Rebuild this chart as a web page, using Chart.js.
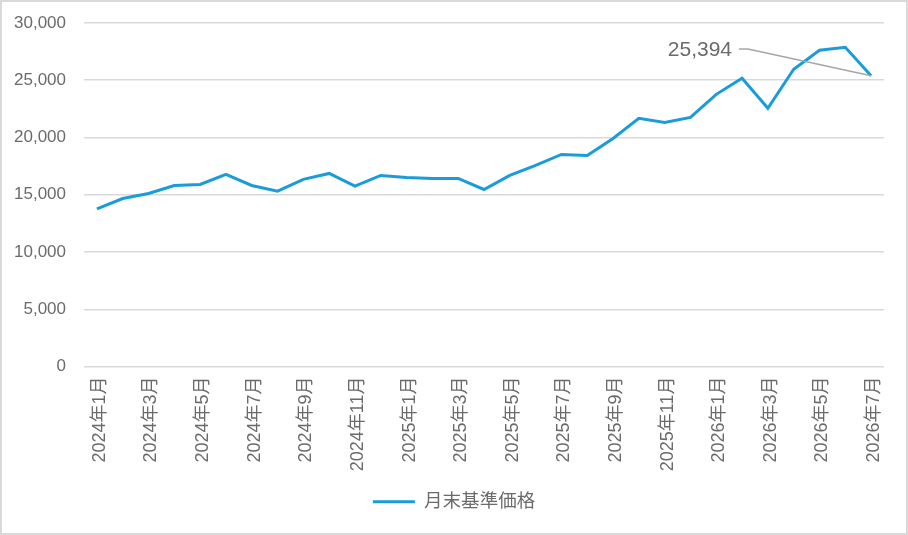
<!DOCTYPE html>
<html>
<head>
<meta charset="utf-8">
<script src="https://cdn.jsdelivr.net/npm/chart.js@4"></script>
<style>
  html, body { margin: 0; padding: 0; background: #fff; }
  #wrap { width: 908px; height: 535px; position: relative; }
</style>
</head>
<body>
<div id="wrap"><canvas id="navChart"></canvas></div>
<script>
const months = [
  "2024年1月", "2024年2月", "2024年3月", "2024年4月", "2024年5月", "2024年6月",
  "2024年7月", "2024年8月", "2024年9月", "2024年10月", "2024年11月", "2024年12月",
  "2025年1月", "2025年2月", "2025年3月", "2025年4月", "2025年5月", "2025年6月",
  "2025年7月", "2025年8月", "2025年9月", "2025年10月", "2025年11月", "2025年12月",
  "2026年1月", "2026年2月", "2026年3月", "2026年4月", "2026年5月", "2026年6月",
  "2026年7月"
];
const navValues = [
  13770, 14670, 15110, 15810, 15900, 16780,
  15810, 15310, 16340, 16860, 15750, 16690,
  16510, 16420, 16420, 15460, 16690, 17560,
  18520, 18430, 19920, 21670, 21320, 21760,
  23770, 25170, 22550, 25960, 27620, 27880,
  25394
];
const seriesName = "月末基準価格";
const yTicks = [0, 5000, 10000, 15000, 20000, 25000, 30000];

const FONT = "'Liberation Sans', Arial, 'Noto Sans CJK JP', sans-serif";
const TEXT = "#6b6b6b";
const GRID = "#d9d9d9";
const BLUE = "#1a9cd8";

// frame around the whole picture
const framePlugin = {
  id: "frame",
  beforeDraw(chart) {
    const c = chart.ctx;
    c.save();
    c.strokeStyle = GRID;
    c.lineWidth = 2;
    c.strokeRect(1, 1, chart.width - 2, chart.height - 2);
    c.restore();
  }
};

// callout for the last value
const lastLabelPlugin = {
  id: "lastLabel",
  afterDatasetsDraw(chart) {
    const meta = chart.getDatasetMeta(0);
    const pt = meta.data[meta.data.length - 1];
    const v = navValues[navValues.length - 1];
    const c = chart.ctx;
    const tx = 732, ty = 50;
    c.save();
    c.strokeStyle = "#a6a6a6";
    c.lineWidth = 1.5;
    c.beginPath();
    c.moveTo(739, 49);
    c.lineTo(748, 49);
    c.lineTo(pt.x, pt.y);
    c.stroke();
    c.fillStyle = "#6b6b6b";
    c.font = "21px " + FONT;
    c.textAlign = "right";
    c.textBaseline = "middle";
    c.fillText(v.toLocaleString("en-US"), tx, ty);
    c.restore();
  }
};

new Chart(document.getElementById("navChart"), {
  type: "line",
  data: {
    labels: months,
    datasets: [{
      label: seriesName,
      data: navValues,
      borderColor: BLUE,
      backgroundColor: BLUE,
      borderWidth: 3,
      pointRadius: 0,
      tension: 0
    }]
  },
  options: {
    responsive: true,
    maintainAspectRatio: false,
    animation: false,
    layout: { padding: { top: 23, right: 0, bottom: 14, left: 0 } },
    plugins: {
      legend: {
        position: "bottom",
        labels: {
          boxWidth: 42,
          boxHeight: 3,
          padding: 10,
          color: TEXT,
          font: { family: FONT, size: 18.5 },
          generateLabels: () => [{
            text: seriesName,
            fillStyle: BLUE,
            strokeStyle: BLUE,
            lineWidth: 0,
            fontColor: TEXT,
            datasetIndex: 0
          }]
        }
      },
      tooltip: { enabled: false }
    },
    scales: {
      x: {
        offset: true,
        grid: { display: false, drawTicks: false },
        border: { display: false },
        ticks: {
          autoSkip: false,
          minRotation: 90,
          maxRotation: 90,
          padding: 10,
          labelOffset: 3,
          color: TEXT,
          font: { family: FONT, size: 18 },
          callback: (val, i) => (i % 2 === 0 ? months[i] : "")
        },
        afterFit: (s) => { s.height = 116; s.paddingLeft = 0; s.paddingRight = 24; }
      },
      y: {
        min: 0,
        max: 30000,
        afterBuildTicks: (s) => { s.ticks = yTicks.map((v) => ({ value: v })); },
        grid: { color: GRID, lineWidth: 1.5, drawTicks: false },
        border: { display: false },
        ticks: {
          padding: 18,
          color: TEXT,
          font: { family: FONT, size: 17 },
          callback: (v) => v.toLocaleString("en-US")
        },
        afterFit: (s) => { s.width = 84; s.paddingTop = 0; s.paddingBottom = 0; }
      }
    }
  },
  plugins: [framePlugin, lastLabelPlugin]
});
</script>
</body>
</html>
